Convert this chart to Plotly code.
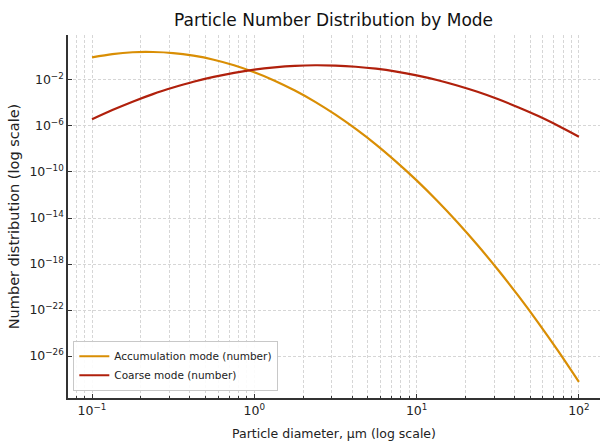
import plotly.graph_objects as go

# Particle diameters (µm) at which the curves were read (even steps on the log axis)
diam_um = [0.1, 0.1334, 0.1778, 0.2371, 0.3162, 0.4217, 0.5623, 0.7499,
           1.0, 1.334, 1.778, 2.371, 3.162, 4.217, 5.623, 7.499,
           10.0, 13.34, 17.78, 23.71, 31.62, 42.17, 56.23, 74.99, 100.0]

# log10 of the number distribution
acc_log10 = [-0.03, 0.25, 0.41, 0.43, 0.34, 0.11, -0.24, -0.72,
             -1.33, -2.06, -2.92, -3.90, -5.02, -6.26, -7.62, -9.12,
             -10.73, -12.48, -14.35, -16.35, -18.48, -20.73, -23.11, -25.62, -28.25]
coarse_log10 = [-5.42, -4.62, -3.89, -3.23, -2.66, -2.15, -1.73, -1.38,
                -1.10, -0.90, -0.77, -0.72, -0.75, -0.85, -1.02, -1.27,
                -1.60, -2.00, -2.48, -3.03, -3.66, -4.37, -5.14, -6.00, -6.93]

acc_vals = [10 ** v for v in acc_log10]
coarse_vals = [10 ** v for v in coarse_log10]

x_tick_vals = [0.1, 1, 10, 100]
x_tick_text = ["10<sup>\u22121</sup>", "10<sup>0</sup>", "10<sup>1</sup>", "10<sup>2</sup>"]
y_tick_exps = [-2, -6, -10, -14, -18, -22, -26]
y_tick_vals = [10 ** e for e in y_tick_exps]
y_tick_text = ["10<sup>\u2212%d</sup>" % (-e) for e in y_tick_exps]
x_minor_vals = [m * 10 ** e for e in (-2, -1, 0, 1, 2) for m in range(2, 10)]

font = "DejaVu Sans, Verdana, sans-serif"

fig = go.Figure()
fig.add_trace(go.Scatter(x=diam_um, y=acc_vals, mode="lines", name="Accumulation mode (number)",
                         line=dict(color="#D98E04", width=2.2, shape="spline", smoothing=0.8)))
fig.add_trace(go.Scatter(x=diam_um, y=coarse_vals, mode="lines", name="Coarse mode (number)",
                         line=dict(color="#B0200C", width=2.2, shape="spline", smoothing=0.8)))

grid_col = "#d6d6d6"
grid_dash = "3px,2px"
fig.update_layout(
    width=601, height=441,
    margin=dict(l=68, r=1, t=35, b=43, autoexpand=False),
    paper_bgcolor="white", plot_bgcolor="white",
    font=dict(family=font, color="#222", size=12),
    title=dict(text="Particle Number Distribution by Mode", x=0.555, xanchor="center",
               y=1 - 20 / 441, yref="container", yanchor="middle",
               font=dict(size=17, color="#111")),
    legend=dict(x=0.01, y=0.02, xanchor="left", yanchor="bottom",
                bgcolor="rgba(255,255,255,0.9)", bordercolor="#c8c8c8", borderwidth=1,
                font=dict(size=10.5, color="#222"), tracegroupgap=0, itemwidth=30),
    showlegend=True,
)
fig.update_xaxes(
    type="log", range=[-1.148, 2.13], automargin=False,
    tickmode="array", tickvals=x_tick_vals, ticktext=x_tick_text,
    ticks="inside", ticklen=4, tickcolor="#333", tickfont=dict(size=12.5),
    showline=True, linecolor="#333", linewidth=1.5,
    showgrid=True, gridcolor=grid_col, griddash=grid_dash, gridwidth=1,
    zeroline=False,
    minor=dict(tickmode="array", tickvals=x_minor_vals, ticks="inside", ticklen=2,
               tickcolor="#333", showgrid=True, gridcolor=grid_col, griddash=grid_dash),
    title=dict(text="Particle diameter, \u00b5m (log scale)", font=dict(size=12.5), standoff=13),
)
fig.update_yaxes(
    type="log", range=[-29.65, 1.91], automargin=False,
    tickmode="array", tickvals=y_tick_vals, ticktext=y_tick_text,
    ticks="inside", ticklen=4, tickcolor="#333", tickfont=dict(size=12.5),
    showline=True, linecolor="#333", linewidth=1.5,
    showgrid=True, gridcolor=grid_col, griddash=grid_dash, gridwidth=1,
    zeroline=False,
    title=dict(text="Number distribution (log scale)", font=dict(size=14.5), standoff=6),
)

fig.write_html("out.html", config={"displayModeBar": False},
               post_script="document.body.style.margin='0';")
